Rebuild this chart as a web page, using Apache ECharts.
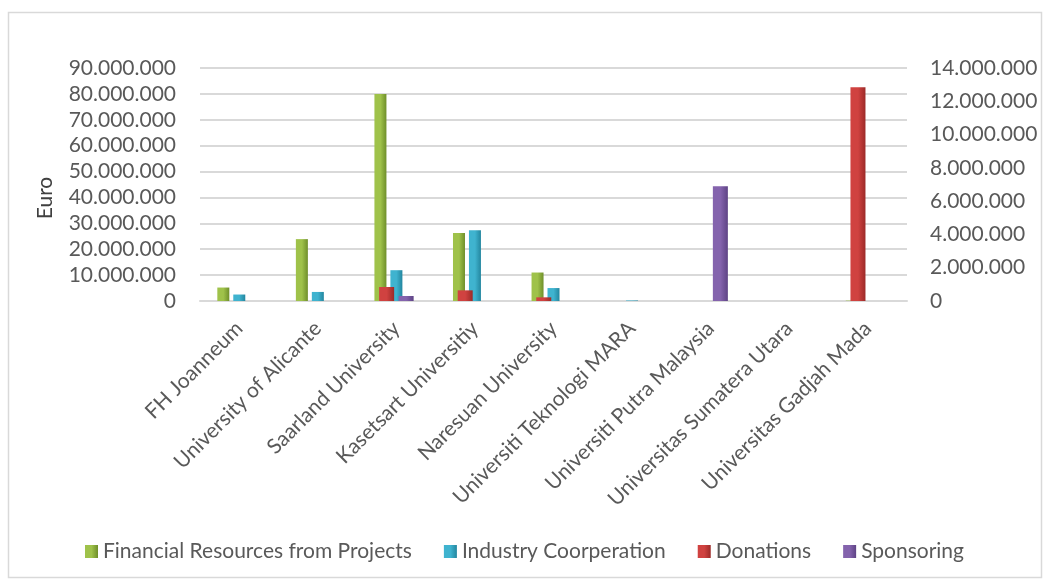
<!DOCTYPE html>
<html>
<head>
<meta charset="utf-8">
<script src="https://cdn.jsdelivr.net/npm/echarts@6/dist/echarts.min.js"></script>
<style>
html,body{margin:0;padding:0;background:#fff;}
#c{width:1049px;height:583px;}
</style>
</head>
<body>
<div id="c"></div>
<script>
const categories = ['FH Joanneum','University of Alicante','Saarland University','Kasetsart Universitiy','Naresuan University','Universiti Teknologi MARA','Universiti Putra Malaysia','Universitas Sumatera Utara','Universitas Gadjah Mada'];
// primary axis (left)
const financial = [5200000, 23900000, 80000000, 26300000, 11000000, 0, 0, 0, 150000];
const industry = [2500000, 3500000, 11900000, 27300000, 5000000, 200000, 0, 0, 0];
// secondary axis (right)
const donations = [0, 0, 840000, 640000, 220000, 0, 0, 0, 12850000];
const sponsoring = [0, 0, 300000, 0, 0, 0, 6900000, 0, 0];
const leftTicks = {min: 0, max: 90000000, interval: 10000000};
const rightTicks = {min: 0, max: 14000000, interval: 2000000};

const FONT = 'Lato';
const TXT = '#595959';
function fmt(v){ return String(Math.round(v)).replace(/\B(?=(\d{3})+(?!\d))/g, '.'); }
function grad(c1, c2){
  return new echarts.graphic.LinearGradient(0,0,1,0,[{offset:0,color:c1},{offset:0.5,color:c1},{offset:1,color:c2}]);
}
const chart = echarts.init(document.getElementById('c'), null, {renderer:'canvas'});
chart.setOption({
  backgroundColor:'#fff',
  animation:false,
  grid:{left:200, right:142, top:68, bottom:282, containLabel:false},
  legend:{
    data:['Financial Resources from Projects','Industry Coorperation','Donations','Sponsoring'],
    left:'center', top:536, itemWidth:13, itemHeight:13, itemGap:32,
    icon:'rect',
    textStyle:{fontFamily:FONT, fontSize:21, color:TXT, padding:[0,0,0,0]}
  },
  xAxis:[
    {type:'category', data:categories,
     axisLine:{show:true, lineStyle:{color:'#d9d9d9', width:2}},
     axisTick:{show:false},
     axisLabel:{rotate:45, interval:0, margin:24, fontFamily:FONT, fontSize:21, color:TXT}},
    {type:'category', data:categories, show:false}
  ],
  yAxis:[
    {type:'value', min:leftTicks.min, max:leftTicks.max, interval:leftTicks.interval,
     axisLine:{show:false}, axisTick:{show:false},
     splitLine:{lineStyle:{color:'#d9d9d9', width:2}},
     axisLabel:{margin:24, fontFamily:FONT, fontSize:21, color:TXT, formatter:fmt}},
    {type:'value', min:rightTicks.min, max:rightTicks.max, interval:rightTicks.interval,
     position:'right',
     axisLine:{show:false}, axisTick:{show:false}, splitLine:{show:false},
     axisLabel:{margin:23, fontFamily:FONT, fontSize:21, color:TXT, formatter:fmt}}
  ],
  series:[
    {name:'Financial Resources from Projects', type:'bar', xAxisIndex:0, yAxisIndex:0, data:financial,
     barWidth:12, barGap:'33%', itemStyle:{color:grad('#9fc24a','#6f8f2a')}},
    {name:'Industry Coorperation', type:'bar', xAxisIndex:0, yAxisIndex:0, data:industry,
     barWidth:12, barGap:'33%', itemStyle:{color:grad('#3fb3cf','#23869f')}},
    {name:'_slot', type:'bar', xAxisIndex:0, yAxisIndex:0, data:categories.map(()=>null),
     barWidth:12, barGap:'33%'},
    {name:'Donations', type:'bar', xAxisIndex:1, yAxisIndex:1, data:donations,
     barWidth:15, barGap:'30%', itemStyle:{color:grad('#d04240','#9c2a28')}},
    {name:'Sponsoring', type:'bar', xAxisIndex:1, yAxisIndex:1, data:sponsoring,
     barWidth:15, barGap:'30%', itemStyle:{color:grad('#8463ad','#5e4385')}}
  ],
  graphic:[
    {type:'rect', shape:{x:8.5,y:12.5,width:1033,height:565}, style:{fill:'none', stroke:'#d9d9d9', lineWidth:1.5}, silent:true, z:-1},
    {type:'text', x:45, y:198, rotation:Math.PI/2, style:{text:'Euro', fontFamily:FONT, fontSize:21, fill:'#404040', align:'center', verticalAlign:'middle'}}
  ]
});
</script>
</body>
</html>
